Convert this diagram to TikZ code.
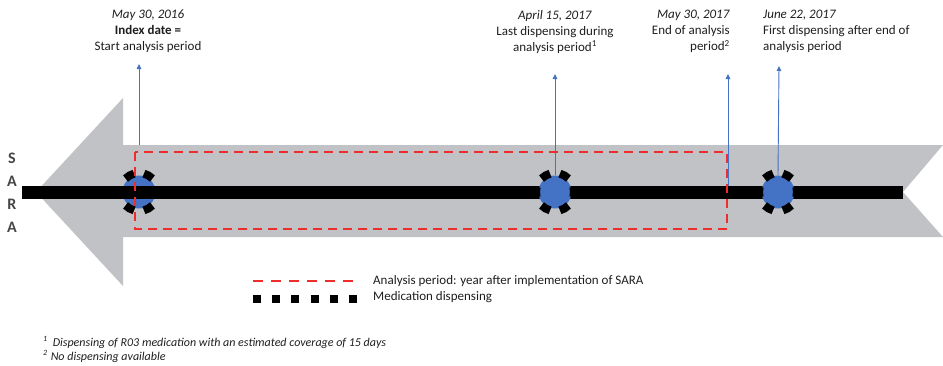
\documentclass[tikz,border=0pt]{standalone}
\usepackage{fontspec}
\setmainfont{Carlito}
\usetikzlibrary{arrows.meta}
\definecolor{arrowgray}{RGB}{192,194,197}
\definecolor{dispblue}{RGB}{68,114,196}
\definecolor{pinred}{RGB}{240,45,45}
\definecolor{saragray}{RGB}{70,70,70}
\definecolor{txtgray}{RGB}{30,30,30}
\tikzset{
  disp/.style={circle, minimum size=33pt, inner sep=0pt, fill=dispblue},
  dispdash/.style={draw=black, line width=8pt},
  timeline/.style={draw=black, line width=13pt},
  pin/.style={draw=dispblue, line width=0.9pt, -{Triangle[length=5pt,width=4.5pt]}},
  period/.style={draw=pinred, line width=2pt, dash pattern=on 9pt off 6pt},
  lbl/.style={inner sep=0pt, font=\fontsize{13}{16}\selectfont, text=txtgray},
  legend/.style={inner sep=0pt, font=\fontsize{13}{14}\selectfont, text=txtgray, anchor=west},
  foot/.style={inner sep=0pt, font=\fontsize{12}{12}\selectfont\itshape, text=txtgray, anchor=base west},
  sara/.style={inner sep=0pt, font=\fontsize{16}{16}\selectfont\bfseries, text=saragray}
}
\begin{document}
\begin{tikzpicture}[x=1pt,y=-1pt]
\useasboundingbox (0,0) rectangle (943,365);
% big grey arrow
\fill[arrowgray] (36,192) -- (123,98) -- (123,145) -- (943,145) -- (903,192) -- (943,237) -- (123,237) -- (123,286) -- cycle;
% SARA
\node[sara] (s1) at (12,158) {S};
\node[sara] (s2) at (12,181) {A};
\node[sara] (s3) at (12,204) {R};
\node[sara] (s4) at (12,227) {A};
% first circle under the line
\node[disp] (c1) at (139,192) {};
\coordinate (ls) at (22,192);
\coordinate (le) at (903,192);
\draw[timeline] (ls) -- (le);
\node[disp] (c2) at (555,192) {};
\node[disp] (c3) at (778,192) {};
% dispensing rings: six dashes each
\foreach \c in {c1,c2,c3}{
  \foreach \a in {0,60,120,180,240,300}{
    \draw[dispdash] ([shift={({\a-15}:19pt)}]\c.center) arc[start angle={\a-15}, end angle={\a+15}, radius=19pt];
  }
}
% pins
\coordinate (b1) at (139,145);
\coordinate (t1) at (139,64);
\coordinate (t2) at (555,74);
\coordinate (b3) at (728,186);
\coordinate (t3) at (728,74);
\coordinate (t4) at (779,66);
\draw[pin] (b1) -- (t1);
\draw[pin] (c2.north) -- (t2);
\draw[pin] (b3) -- (t3);
\draw[pin] (c3.north) -- (t4);
% analysis period
\draw[period] (135,152) rectangle (727,229);
% labels
\node[lbl, align=center, anchor=north] (l1) at (148,10) {\textit{May 30, 2016}\\\textbf{Index date =}\\Start analysis period};
\node[lbl, align=center, anchor=north] (l2) at (555,10) {\textit{April 15, 2017}\\Last dispensing during\\analysis period\textsuperscript{1}};
\node[lbl, align=right, anchor=north east] (l3) at (730,10) {\textit{May 30, 2017}\\End of analysis\\period\textsuperscript{2}};
\node[lbl, align=left, anchor=north west] (l4) at (763,10) {\textit{June 22, 2017}\\First dispensing after end of\\analysis period};
% legend
\coordinate (ra) at (253,281);
\coordinate (rb) at (357,281);
\draw[draw=pinred, line width=2pt, dash pattern=on 10pt off 8pt] (ra) -- (rb);
\node[legend] (lt1) at (373,281) {Analysis period: year after implementation of SARA};
\coordinate (ka) at (253,299);
\coordinate (kb) at (357,299);
\draw[draw=black, line width=8pt, dash pattern=on 8pt off 11.2pt] (ka) -- (kb);
\node[legend] (lt2) at (373,297) {Medication dispensing};
% footnotes
\node[foot] (f1) at (43,346) {\textsuperscript{1}\hspace{5pt}Dispensing of R03 medication with an estimated coverage of 15 days};
\node[foot] (f2) at (43,360) {\textsuperscript{2}\hspace{3pt}No dispensing available};
\end{tikzpicture}
\end{document}
